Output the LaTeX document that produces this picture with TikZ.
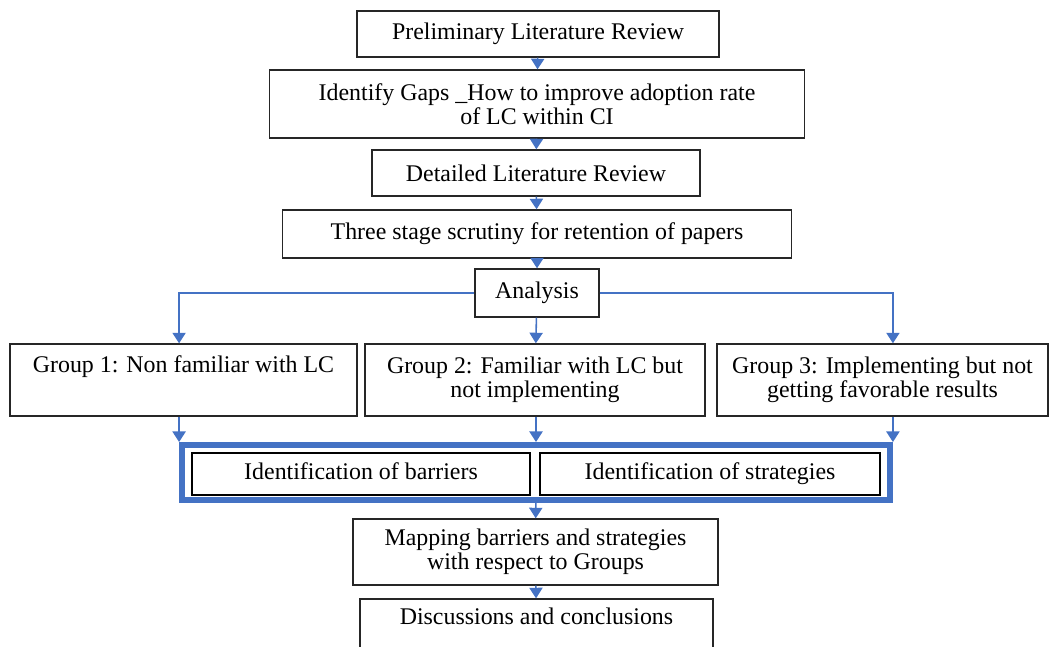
\documentclass[tikz,border=0pt]{standalone}
\usepackage{fontspec}
\setmainfont{Liberation Serif}
\usetikzlibrary{arrows.meta}

\definecolor{flowblue}{HTML}{4472C4}
\tikzstyle{box}=[draw=black!85, line width=0.8pt, align=center, inner sep=2pt, font=\fontsize{13.6}{13.6}\selectfont]
\tikzstyle{inner box}=[box, draw=black, line width=1.3pt, text height=9.5pt, text depth=3pt]
\tikzstyle{flow} = [draw=flowblue, line width=0.9pt, -{Triangle[width=7.5pt,length=6pt]}]

\begin{document}
\begin{tikzpicture}[x=0.02cm, y=-0.02cm]
	    \useasboundingbox (0,0) rectangle (1050,646);
	    % main column
	    \node[box, minimum width=7.24cm, minimum height=0.92cm] (pre) at (538,34) {Preliminary Literature Review};
	    \node[box, minimum width=10.7cm, minimum height=1.36cm] (gaps) at (537,104) {Identify Gaps \_How to improve adoption rate\\ of LC within CI};
	    \node[box, minimum width=6.56cm, minimum height=0.92cm] (detail) at (536,173) {Detailed Literature Review};
	    \node[box, minimum width=10.18cm, minimum height=0.96cm] (scrut) at (537,234) {Three stage scrutiny for retention of papers};
	    \node[box, minimum width=2.48cm, minimum height=0.96cm] (ana) at (537,293) {Analysis};
	    % groups
	    \node[box, minimum width=6.94cm, minimum height=1.44cm] (g1) at (183.5,380) {Group 1: Non familiar with LC\\ \strut};
	    \node[box, minimum width=6.8cm, minimum height=1.44cm] (g2) at (535,380) {Group 2: Familiar with LC but\\ not implementing};
	    \node[box, minimum width=6.62cm, minimum height=1.44cm] (g3) at (882.5,380) {Group 3: Implementing but not\\ getting favorable results};
	    % identification
	    \node[draw=flowblue, line width=3.4pt, minimum width=14.16cm, minimum height=1.1cm] (ident) at (536,472.5) {};
	    \node[inner box, minimum width=6.76cm, minimum height=0.84cm] (barr) at (361,474) {Identification of barriers};
	    \node[inner box, minimum width=6.8cm, minimum height=0.84cm] (strat) at (710,474) {Identification of strategies};
	    \node[box, minimum width=7.3cm, minimum height=1.32cm] (map) at (535.5,552) {Mapping barriers and strategies\\ with respect to Groups};
	    \node[box, minimum width=7.06cm, minimum height=1.32cm] (disc) at (536.5,632) {Discussions and conclusions\\ \strut};

	    \foreach \source/ \dest in {pre/gaps, gaps/detail, detail/scrut, scrut/ana, ana/g2, ident/map, map/disc}
			\path[flow] (\source) -- (\dest);
		\path[flow] (ana.west) -| (g1.north -| ident.west);
		\path[flow] (ana.east) -| (g3.north -| ident.east);
		\path[flow] (g1.south -| ident.west) -- (ident.north west);
		\path[flow] (g2.south -| ident.north) -- (ident.north);
		\path[flow] (g3.south -| ident.east) -- (ident.north east);
	\end{tikzpicture}
\end{document}
